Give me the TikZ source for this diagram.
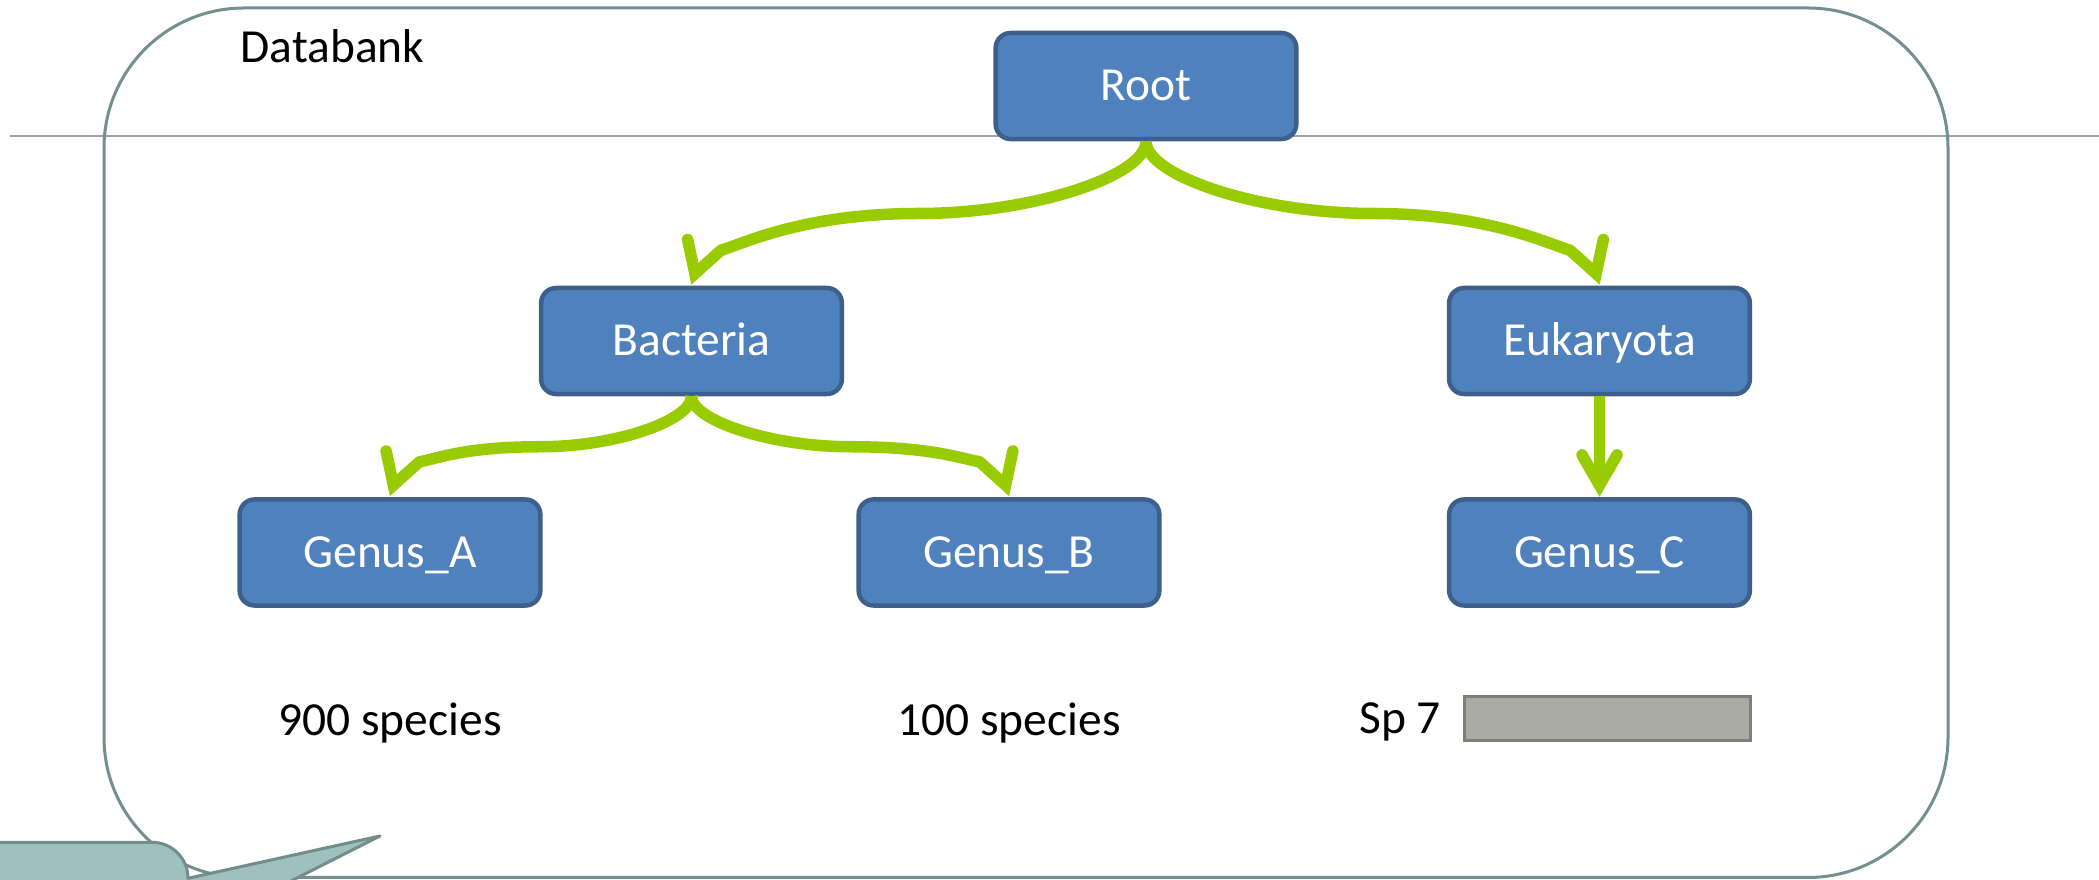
\documentclass[tikz,border=0pt]{standalone}
\usepackage{fontspec}
\setmainfont{Carlito}
\usetikzlibrary{calc}
\definecolor{boxfill}{HTML}{4F81BD}
\definecolor{boxline}{HTML}{3C5F8C}
\definecolor{arrowc}{HTML}{99CC00}
\definecolor{framec}{HTML}{738F8F}
\definecolor{calfill}{HTML}{A0C0C0}
\definecolor{calline}{HTML}{738C8C}
\definecolor{barfill}{HTML}{ABABA6}
\definecolor{barline}{HTML}{7F7F7A}
\definecolor{hlinec}{HTML}{A0A0A0}
\tikzset{
  taxon/.style={draw=boxline, fill=boxfill, line width=0.045cm, rounded corners=0.15cm,
    minimum width=3.005cm, minimum height=1.06cm, inner sep=0pt, text=white,
    font=\fontsize{13.5pt}{16pt}\selectfont, text height=0.3cm, text depth=0pt},
  lbl/.style={font=\fontsize{13.5pt}{16pt}\selectfont, inner sep=0pt, text=black},
  conn/.style={draw=arrowc, line width=0.115cm},
  headst/.style={draw=arrowc, line width=0.115cm, line cap=round, line join=miter},
  pics/vhead/.style={code={\draw[headst] (-17.5,-30.3) -- (0,0) -- (17.5,-30.3);}},
  frame/.style={draw=framec, line width=0.03cm, rounded corners=1.4cm},
  callout/.style={draw=calline, fill=calfill, line width=0.03cm, line join=round},
  bar/.style={draw=barline, fill=barfill, line width=0.03cm},
}
\begin{document}
\begin{tikzpicture}[x=0.01cm, y=-0.01cm]
\useasboundingbox (0,0) rectangle (2099,880);
\clip (0,0) rectangle (2099,880);
\fill[white] (0,0) rectangle (2099,880);

% horizontal rule
\coordinate (hl1) at (10,136.5);
\coordinate (hl2) at (2099,136.5);
\draw[draw=hlinec, line width=0.02cm] (hl1) -- (hl2);

% databank frame
\draw[frame] (104,8) rectangle (1948,877.5);
\node[lbl, anchor=base west] (databank) at (240,63) {Databank};

% taxa
\node[taxon] (root) at (1146,86) {Root};
\node[taxon] (bact) at (691.5,341) {Bacteria};
\node[taxon] (euk)  at (1599.5,341) {Eukaryota};
\node[taxon] (ga)   at (390,552.5) {Genus\_A};
\node[taxon] (gb)   at (1009,552.5) {Genus\_B};
\node[taxon] (gc)   at (1599.5,552.5) {Genus\_C};

% Root -> Bacteria
\coordinate (v1) at ($(bact.north)+(3.4,-12)$);
\coordinate (e1) at ($(v1)+(26,-23.4)$);
\coordinate (m1) at (918.75,213.5);
\draw[conn] (root.south) .. controls (1146,176) and (1032.4,213.5) .. (m1)
  .. controls (805.1,213.5) and (745.9,242.6) .. (e1);
\pic[rotate=-18] at (v1) {vhead};

% Root -> Eukaryota
\coordinate (v2) at ($(euk.north)+(-3.4,-12)$);
\coordinate (e2) at ($(v2)+(-26,-23.4)$);
\coordinate (m2) at (1372.75,213.5);
\draw[conn] (root.south) .. controls (1146,176) and (1259.4,213.5) .. (m2)
  .. controls (1486.1,213.5) and (1545.1,242.6) .. (e2);
\pic[rotate=18] at (v2) {vhead};

% Bacteria -> Genus_A
\coordinate (v3) at ($(ga.north)+(3.4,-12)$);
\coordinate (e3) at ($(v3)+(26,-23.4)$);
\coordinate (m3) at (540.75,446.75);
\draw[conn] (bact.south) .. controls (691.5,420.4) and (616.1,446.75) .. (m3)
  .. controls (465.4,446.75) and (439.4,458.1) .. (e3);
\pic[rotate=-18] at (v3) {vhead};

% Bacteria -> Genus_B
\coordinate (v4) at ($(gb.north)+(-3.4,-12)$);
\coordinate (e4) at ($(v4)+(-26,-23.4)$);
\coordinate (m4) at (850.25,446.75);
\draw[conn] (bact.south) .. controls (691.5,420.4) and (770.9,446.75) .. (m4)
  .. controls (929.6,446.75) and (959.6,458.1) .. (e4);
\pic[rotate=18] at (v4) {vhead};

% Eukaryota -> Genus_C
\coordinate (v5) at ($(gc.north)+(0,-12)$);
\draw[conn] (euk.south) -- (v5);
\pic at (v5) {vhead};

% species labels
\node[lbl, anchor=base] (spa) at (390,736) {900 species};
\node[lbl, anchor=base] (spb) at (1009,736) {100 species};
\node[lbl, anchor=base] (spc) at (1400,734) {Sp 7};
\draw[bar] (1464.5,697) rectangle (1750,741);

% callout
\draw[callout] (-5,960) -- (-5,842.3) -- (152,842.3)
  .. controls (171.9,842.3) and (188,858.4) .. (188,878.3)
  -- (380,836) -- (188,933) -- (188,960) -- cycle;
\end{tikzpicture}
\end{document}
